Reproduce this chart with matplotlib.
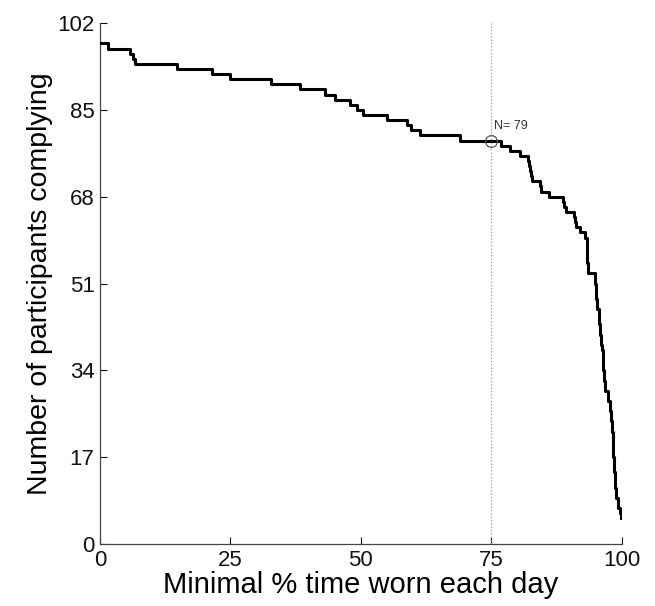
import numpy as np
import matplotlib
matplotlib.use("Agg")
import matplotlib.pyplot as plt

# step breakpoints: minimal % time worn (x) and participants still complying (n)
pct_worn = [0, 1.5, 5.8, 6.3, 6.8, 14.8, 21.5, 24.9, 32.8, 38.4, 43.1, 45.0, 47.9,
            49.2, 50.4, 55.1, 58.8, 59.7, 61.3, 69.0, 76.8, 78.6, 80.5, 82.1, 82.3,
            82.5, 82.7, 82.9, 84.3, 84.6, 86.1, 88.8, 89.0, 89.3, 90.9, 91.0, 91.2,
            92.1, 93.0, 93.3, 93.4, 93.5, 94.9, 95.1, 95.3, 95.6, 95.8, 96.0, 96.2,
            96.4, 96.5, 96.7, 96.8, 97.4, 97.7, 97.9, 98.1, 98.3, 98.4, 98.5, 98.7,
            98.9, 99.4, 99.6, 99.8, 99.9]
n_complying = [98, 97, 96, 95, 94, 93, 92, 91, 90, 89, 88, 87, 86,
               85, 84, 83, 82, 81, 80, 79, 78, 77, 76, 75, 74,
               73, 72, 71, 70, 69, 68, 67, 66, 65, 64, 63, 62,
               61, 60, 57, 55, 53, 51, 48, 46, 43, 41, 39, 38,
               36, 34, 32, 30, 28, 26, 24, 22, 20, 17, 14, 11,
               9, 7, 6, 5, 5]

cutoff = 75
n_at_cutoff = 79
y_ticks = [0, 17, 34, 51, 68, 85, 102]
x_ticks = [0, 25, 50, 75, 100]

plt.rcParams['font.family'] = ['Liberation Sans', 'DejaVu Sans']

fig = plt.figure(figsize=(6.55, 6.06), dpi=100)
ax = fig.add_axes([0.1527, 0.1023, 0.7963, 0.8597])

ax.step(pct_worn, n_complying, where='post', color='black', lw=2.2, zorder=3)
ax.plot([cutoff, cutoff], [0, 102], color='#999999', lw=0.9, ls=':', zorder=2)
ax.plot([cutoff], [n_at_cutoff], marker='o', ms=8.5, mfc='none', mec='#555555',
        mew=0.9, zorder=4)
ax.text(cutoff + 0.6, n_at_cutoff + 1.6, f"N= {n_at_cutoff}", fontsize=9,
        color='#333333', va='bottom', ha='left')

ax.set_xlim(0, 100)
ax.set_ylim(0, 102)
ax.set_xticks(x_ticks)
ax.set_yticks(y_ticks)
ax.tick_params(direction='in', length=5, width=0.8, labelsize=16, colors='#111111',
               pad=4)
for s in ['top', 'right']:
    ax.spines[s].set_visible(False)
for s in ['left', 'bottom']:
    ax.spines[s].set_color('#444444')
    ax.spines[s].set_linewidth(0.9)

ax.set_xlabel("Minimal % time worn each day", fontsize=21, labelpad=0)
ax.set_ylabel("Number of participants complying", fontsize=20.5, labelpad=3)

fig.savefig("out.png", dpi=100)
